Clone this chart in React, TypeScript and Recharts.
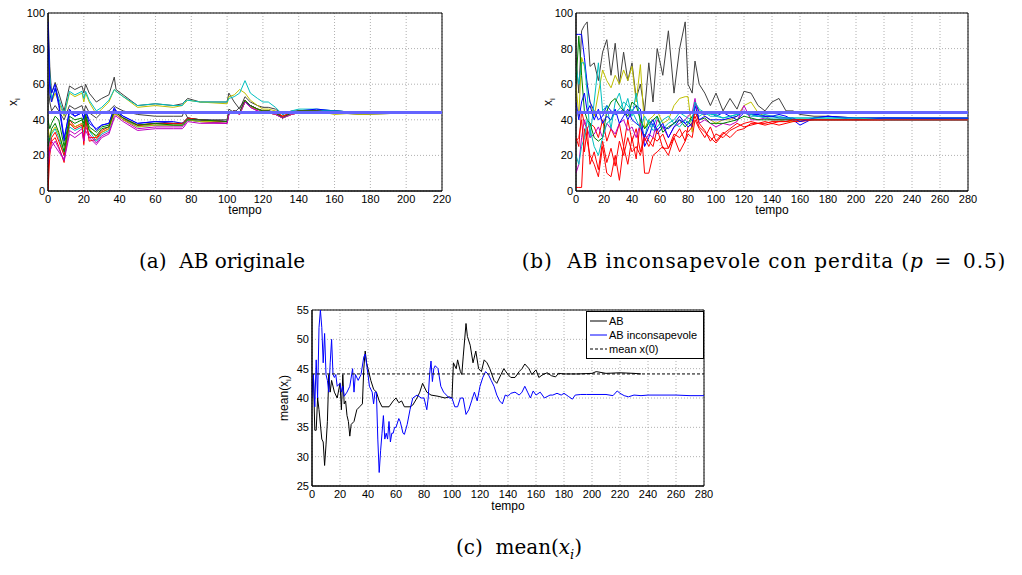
import { LineChart, Line, XAxis, YAxis, CartesianGrid, ReferenceArea, Legend } from "recharts";

const FONT = '"Liberation Sans", Arial, Helvetica, sans-serif';
const SERIF = '"DejaVu Serif", "Liberation Serif", serif';

// MATLAB default line colours
const K = "#404040";
const B = "#0000ff";
const G = "#008000";
const R = "#ff0000";
const C = "#00bfbf";
const M = "#bf00bf";
const Y = "#bfbf00";

// ---------- (a) AB originale ----------
const timeA = [0, 1, 2, 4, 6, 9, 12, 15, 19, 20, 21, 23, 27, 30, 34, 37, 38, 42, 50, 60, 70, 75, 76, 78, 85, 100, 101, 104, 107, 110, 113, 117, 120, 123, 127, 131, 136, 140, 150, 160, 175, 205];
const agentsA: number[][] = [
  [100, 70, 55, 61, 55, 45, 59, 57, 59, 55, 60, 55, 50, 52, 54, 64, 57, 54, 48, 49, 48, 49, 50, 52, 50, 50, 55, 50, 46, 53, 50, 48, 47, 47, 46, 43, 45, 45, 45, 44, 44, 44],
  [75, 60, 50, 55, 50, 42, 55, 53, 55, 50, 55, 50, 43, 46, 50, 57, 56, 53, 47, 48, 47, 48, 49, 51, 50, 49, 53, 54, 57, 55, 51, 48, 46, 46, 45, 42, 44, 45, 45, 43, 44, 44],
  [85, 65, 52, 57, 52, 43, 56, 54, 56, 52, 56, 51, 45, 47, 51, 57, 56, 53, 48, 49, 48, 48, 50, 51, 50, 50, 52, 53, 55, 62, 55, 52, 50, 50, 47, 43, 45, 46, 46, 45, 44, 44],
  [60, 50, 45, 48, 45, 40, 48, 46, 48, 44, 48, 44, 41, 44, 45, 48, 47, 45, 43, 42, 42, 42, 45, 41, 40, 40, 46, 44, 47, 51, 48, 46, 45, 45, 44, 42, 44, 44, 45, 44, 43, 44],
  [90, 55, 50, 58, 48, 28, 46, 42, 44, 40, 45, 38, 35, 37, 38, 47, 45, 42, 38, 39, 38, 38, 39, 41, 40, 39, 44, 45, 44, 50, 48, 46, 45, 45, 44, 41, 44, 45, 46, 45, 44, 44],
  [40, 35, 38, 42, 40, 25, 42, 40, 41, 38, 43, 36, 33, 36, 37, 45, 44, 41, 37, 38, 38, 38, 39, 41, 40, 39, 44, 45, 44, 51, 48, 46, 45, 45, 44, 41, 44, 45, 45, 45, 44, 44],
  [0, 20, 28, 30, 25, 16, 40, 36, 38, 26, 42, 28, 29, 33, 35, 44, 43, 40, 37, 37, 37, 37, 38, 40, 39, 38, 44, 45, 43, 51, 48, 45, 44, 44, 43, 42, 43, 44, 44, 44, 44, 44],
  [20, 30, 28, 25, 22, 18, 34, 32, 35, 30, 36, 32, 27, 31, 33, 42, 43, 40, 35, 36, 36, 36, 37, 40, 39, 38, 43, 45, 43, 50, 47, 45, 44, 44, 43, 41, 43, 44, 45, 44, 44, 44],
  [95, 60, 55, 60, 50, 30, 44, 42, 44, 41, 45, 40, 34, 37, 38, 46, 45, 42, 38, 39, 39, 38, 39, 40, 40, 39, 44, 45, 44, 50, 48, 46, 45, 45, 44, 41, 44, 45, 45, 45, 44, 44],
  [30, 28, 32, 35, 30, 20, 36, 34, 36, 33, 38, 34, 28, 32, 34, 44, 44, 41, 36, 37, 37, 37, 38, 40, 39, 39, 44, 45, 44, 51, 48, 46, 45, 45, 44, 41, 44, 45, 45, 45, 44, 44],
  [35, 30, 33, 36, 32, 22, 38, 36, 38, 35, 40, 35, 30, 33, 35, 43, 43, 40, 36, 37, 37, 37, 38, 40, 39, 39, 44, 45, 43, 50, 47, 46, 45, 44, 43, 41, 43, 44, 44, 44, 43, 44],
  [10, 25, 30, 33, 28, 20, 38, 35, 37, 28, 40, 30, 30, 34, 36, 45, 44, 41, 37, 38, 38, 38, 39, 41, 40, 39, 44, 45, 44, 51, 48, 46, 45, 45, 44, 42, 44, 45, 45, 44, 44, 44],
  [25, 30, 35, 38, 33, 22, 40, 38, 40, 36, 42, 34, 31, 35, 36, 45, 44, 41, 37, 38, 37, 37, 38, 40, 40, 39, 44, 45, 44, 51, 48, 46, 45, 45, 44, 41, 44, 45, 45, 44, 44, 44],
  [15, 22, 25, 28, 24, 17, 32, 30, 33, 28, 34, 30, 26, 30, 32, 41, 42, 39, 34, 35, 35, 35, 36, 39, 38, 38, 43, 45, 43, 50, 47, 45, 44, 44, 43, 41, 43, 44, 44, 44, 44, 44],
];
const colorsA = [K, Y, C, K, B, G, R, M, B, C, Y, R, G, M];
const meanA = [{ t: 0, m: 44.1 }, { t: 220, m: 44.1 }];

// ---------- (b) AB inconsapevole con perdita ----------
const timeB = [0, 2, 4, 6, 8, 10, 13, 16, 19, 22, 25, 28, 31, 34, 37, 40, 43, 46, 49, 52, 55, 58, 62, 66, 70, 74, 78, 80, 83, 85, 88, 92, 96, 100, 105, 110, 115, 120, 125, 130, 135, 140, 145, 150, 155, 160, 170, 180, 200, 220, 280];
const agentsB: number[][] = [
  [75, 55, 90, 93, 95, 70, 72, 62, 78, 85, 65, 83, 60, 78, 62, 72, 52, 60, 45, 72, 50, 80, 65, 90, 55, 80, 95, 60, 55, 73, 60, 55, 48, 55, 45, 52, 46, 56, 55, 48, 45, 50, 52, 45, 45, 43, 42, 42, 41, 41, 41],
  [60, 42, 75, 70, 60, 50, 42, 55, 68, 62, 58, 65, 60, 68, 62, 70, 50, 71, 35, 40, 42, 45, 38, 40, 48, 52, 53, 53, 33, 50, 45, 42, 40, 38, 40, 40, 42, 48, 50, 44, 42, 40, 40, 39, 39, 40, 40, 40, 40, 40, 40],
  [88, 88, 88, 75, 60, 50, 45, 40, 42, 48, 45, 43, 44, 46, 40, 45, 48, 46, 25, 30, 38, 32, 36, 35, 38, 42, 38, 39, 36, 50, 44, 43, 44, 42, 44, 42, 40, 44, 43, 43, 42, 42, 43, 42, 40, 37, 41, 42, 40, 41, 40.5],
  [2, 2, 2, 35, 28, 20, 15, 8, 25, 10, 8, 20, 6, 25, 15, 30, 18, 40, 10, 10, 20, 22, 25, 20, 30, 22, 28, 32, 30, 40, 35, 30, 36, 28, 33, 30, 34, 35, 38, 38, 37, 38, 37, 38, 39, 39, 40, 40, 40, 40, 40],
  [30, 25, 45, 38, 35, 38, 36, 30, 40, 28, 35, 30, 38, 25, 40, 28, 35, 22, 32, 28, 25, 35, 24, 24, 30, 35, 28, 36, 38, 42, 36, 33, 30, 27, 32, 35, 38, 36, 37, 38, 39, 38, 39, 39, 40, 40, 40, 40, 40, 40, 40],
  [70, 60, 72, 72, 55, 30, 50, 72, 45, 48, 35, 50, 55, 45, 52, 42, 55, 38, 30, 40, 36, 42, 35, 38, 40, 44, 42, 41, 40, 45, 42, 44, 43, 43, 41, 42, 43, 44, 42, 42, 43, 42, 42, 41, 41, 41, 41, 41, 41, 41, 41],
  [10, 15, 30, 40, 35, 30, 32, 36, 30, 38, 35, 32, 38, 40, 34, 36, 30, 38, 28, 32, 30, 40, 36, 30, 36, 38, 40, 42, 44, 52, 38, 40, 38, 36, 38, 37, 39, 48, 40, 40, 41, 40, 40, 40, 40, 40, 40, 40, 40, 40, 40],
  [60, 87, 65, 45, 40, 38, 30, 28, 30, 45, 50, 52, 48, 45, 42, 50, 48, 40, 35, 38, 40, 42, 33, 36, 38, 40, 36, 38, 42, 44, 40, 41, 38, 38, 38, 39, 40, 42, 41, 40, 40, 40, 40, 40, 40, 40, 40, 40, 40, 40, 40],
  [50, 40, 50, 55, 45, 48, 40, 46, 38, 42, 40, 46, 38, 42, 46, 40, 38, 36, 30, 36, 40, 34, 38, 30, 36, 40, 38, 36, 38, 48, 40, 42, 40, 40, 40, 41, 42, 45, 43, 42, 42, 42, 41, 41, 41, 39, 41, 42, 41, 41, 41],
  [20, 15, 25, 30, 40, 35, 25, 20, 30, 38, 40, 44, 46, 50, 48, 45, 40, 35, 42, 38, 34, 36, 40, 42, 38, 36, 40, 38, 40, 50, 46, 44, 42, 42, 41, 42, 43, 44, 43, 42, 41, 41, 41, 41, 41, 41, 41, 41, 41, 40, 40],
  [28, 30, 40, 22, 35, 15, 22, 12, 28, 16, 24, 14, 28, 20, 30, 22, 25, 20, 30, 25, 30, 28, 32, 24, 32, 30, 34, 33, 36, 45, 38, 34, 28, 32, 30, 34, 36, 38, 39, 38, 38, 39, 39, 39, 40, 40, 40, 40, 40, 40, 40],
];
const colorsB = [K, Y, B, R, R, C, M, G, B, C, R];
const meanB = [{ t: 0, m: 44.1 }, { t: 280, m: 44.1 }];

// ---------- (c) mean(x_i) ----------
const abMean: [number, number][] = [
  [0, 41], [1, 44], [2, 34.5], [3, 34.5], [4, 40], [5, 38], [7, 33], [8, 32.5], [9, 28.5], [10, 32], [11, 36], [12, 44], [13, 41], [14, 43],
  [16, 41], [18, 40], [20, 42.5], [21, 38], [22, 44], [23, 39], [24, 39.5], [25, 37], [26, 36], [27, 33.5], [28, 35.5], [30, 36], [32, 38],
  [34, 38.5], [36, 39], [37, 45], [38, 48], [39, 46], [40, 45], [42, 43], [44, 41.5], [46, 41], [48, 39.5], [50, 38.5], [55, 38.5], [58, 39.5],
  [60, 40], [62, 39.2], [64, 39.5], [66, 38.5], [70, 38.5], [72, 38.8], [75, 40], [77, 41], [79, 42.5], [82, 41], [85, 40.5], [90, 40.3],
  [95, 40], [98, 40.2], [100, 40], [101, 46], [103, 45], [104, 46.5], [106, 44.5], [107, 44], [108, 47], [110, 52.7], [111, 50.5], [113, 49],
  [115, 46], [117, 48], [119, 45], [121, 44.5], [123, 46.5], [125, 46], [127, 45], [130, 43], [132, 42.5], [135, 44], [137, 45], [140, 44],
  [142, 43.5], [145, 43.5], [148, 44.5], [150, 45], [152, 45.8], [155, 45], [157, 44], [160, 44.8], [162, 43.5], [165, 44], [168, 44.3],
  [171, 43.8], [174, 43.6], [176, 44.2], [180, 44.1], [190, 44.1], [200, 44.2], [203, 44.5], [210, 44.2], [220, 44.3], [230, 44.2], [235, 44.1],
];
const abiMean: [number, number][] = [
  [0, 40], [1, 44], [2, 38.5], [3, 46.5], [4, 40], [5, 52], [6, 55], [7, 52], [8, 46], [9, 51], [10, 44], [11, 43], [12, 41], [13, 46],
  [14, 50], [15, 44], [16, 43.5], [17, 44], [18, 42], [20, 42.5], [21, 41], [22, 42], [23, 40.3], [25, 41], [27, 42], [29, 45], [30, 41],
  [31, 44], [33, 43], [35, 44], [37, 47], [38, 47.5], [40, 44], [41, 42], [43, 41], [44, 39], [45, 41], [46, 41], [47, 33], [48, 27.3],
  [49, 31], [50, 34], [51, 37], [52, 33], [53, 34], [54, 33], [55, 36], [56, 32.5], [57, 34], [58, 34], [59, 35], [60, 35], [62, 36.5],
  [63, 36], [65, 34], [66, 33.8], [68, 35.5], [70, 38], [72, 40], [75, 40.5], [78, 40], [80, 40], [82, 38], [83, 40], [84, 44], [85, 46.3],
  [86, 42.8], [87, 45], [88, 45.5], [90, 45], [92, 42], [94, 41], [96, 40.5], [98, 40], [100, 40], [102, 38.5], [104, 38.5], [106, 40],
  [108, 40], [110, 37.2], [112, 38], [114, 39.5], [116, 41], [118, 39.5], [120, 42], [122, 43.5], [124, 44.5], [126, 44], [128, 43],
  [130, 42], [132, 40.5], [134, 39.5], [136, 39], [138, 40.5], [140, 40.3], [142, 40.8], [145, 41], [148, 40.5], [150, 41], [152, 42],
  [154, 41], [156, 40], [158, 41.2], [160, 40.5], [163, 41], [166, 40], [170, 40.5], [172, 40.5], [175, 40.8], [178, 40.5], [180, 40.8],
  [183, 40.3], [186, 39.8], [188, 40.5], [192, 40.6], [196, 40.6], [200, 40.6], [205, 40.6], [210, 40.6], [215, 40.4], [218, 41.2],
  [220, 40.8], [223, 40.4], [226, 40.2], [230, 40.5], [235, 40.4], [240, 40.5], [250, 40.5], [260, 40.5], [270, 40.4], [280, 40.4],
];
const meanX0 = [{ t: 0, v: 44.1 }, { t: 280, v: 44.1 }];
const legendDash: Record<string, string | undefined> = { "mean x(0)": "3 2" };

const ticks0to220 = [0, 20, 40, 60, 80, 100, 120, 140, 160, 180, 200, 220];
const ticks0to280 = [0, 20, 40, 60, 80, 100, 120, 140, 160, 180, 200, 220, 240, 260, 280];
const ticks0to100 = [0, 20, 40, 60, 80, 100];
const ticks25to55 = [25, 30, 35, 40, 45, 50, 55];

const toRows = (time: number[], agents: number[][]) =>
  time.map((t, i) => {
    const row: Record<string, number> = { t };
    agents.forEach((s, k) => (row[`x${k}`] = s[i]));
    return row;
  });
const toPoints = (pts: [number, number][]) => pts.map(([t, v]) => ({ t, v }));

const tickStyle = { fontSize: 11, fill: "#000" };

function frame(xMax: number, xTicks: number[], yMin: number, yMax: number, yTicks: number[], yWidth: number, xHeight: number, labelOffset: number) {
  return [
    <CartesianGrid key="grid" stroke="#b0b0b0" strokeDasharray="1 2" />,
    <XAxis
      key="x"
      type="number"
      dataKey="t"
      domain={[0, xMax]}
      ticks={xTicks}
      interval={0}
      allowDataOverflow
      tickSize={0}
      tickMargin={4}
      tick={tickStyle}
      stroke="#000"
      height={xHeight}
      label={{ value: "tempo", position: "insideBottom", offset: labelOffset, fontSize: 12, fill: "#000" }}
    />,
    <YAxis
      key="y"
      type="number"
      domain={[yMin, yMax]}
      ticks={yTicks}
      interval={0}
      allowDataOverflow
      tickSize={0}
      tickMargin={3}
      tick={tickStyle}
      stroke="#000"
      width={yWidth}
    />,
    <ReferenceArea key="box" x1={0} x2={xMax} y1={yMin} y2={yMax} fill="none" stroke="#000" strokeWidth={1} />,
  ];
}

function SubLabel({ x, y, pre, sub, post }: { x: number; y: number; pre: string; sub: string; post?: string }) {
  return (
    <text transform={`translate(${x},${y}) rotate(-90)`} textAnchor="middle" fontSize={12} fill="#000">
      <tspan>{pre}</tspan>
      <tspan dy={3} fontSize={8}>{sub}</tspan>
      {post ? <tspan dy={-3}>{post}</tspan> : null}
    </text>
  );
}

function LegendBox({ payload }: any) {
  return (
    <div style={{ border: "1px solid #000", background: "#fff", padding: "2px 0 2px 3px", fontSize: 11, fontFamily: FONT, lineHeight: "14px", whiteSpace: "nowrap" }}>
      {(payload || []).map((e: any) => (
        <div key={e.value} style={{ display: "flex", alignItems: "center" }}>
          <svg width={18} height={8} style={{ marginRight: 1 }}>
            <line x1={0} y1={4} x2={17} y2={4} stroke={e.color} strokeWidth={1} strokeDasharray={legendDash[e.value]} />
          </svg>
          <span>{e.value}</span>
        </div>
      ))}
    </div>
  );
}

const caption: React.CSSProperties = {
  position: "absolute",
  fontFamily: SERIF,
  fontSize: 20,
  whiteSpace: "nowrap",
  transform: "translateX(-50%)",
  color: "#000",
};

export default function App() {
  const rowsA = toRows(timeA, agentsA);
  const rowsB = toRows(timeB, agentsB);
  return (
    <div style={{ position: "absolute", left: 0, top: 0, width: 1022, height: 575, background: "#fff", fontFamily: FONT }}>
      <div style={{ position: "absolute", left: 0, top: 0 }}>
        <LineChart width={460} height={232} data={rowsA} margin={{ top: 13, right: 18, bottom: 0, left: 0 }}>
          {frame(220, ticks0to220, 0, 100, ticks0to100, 48, 41, 18)}
          {agentsA.map((_, k) => (
            <Line key={k} type="linear" dataKey={`x${k}`} stroke={colorsA[k]} strokeWidth={1} dot={false} isAnimationActive={false} />
          ))}
          <Line data={meanA} type="linear" dataKey="m" stroke="#6464ff" strokeWidth={3} dot={false} isAnimationActive={false} />
          <SubLabel x={17} y={102} pre="x" sub="i" />
        </LineChart>
      </div>

      <div style={{ position: "absolute", left: 540, top: 0 }}>
        <LineChart width={482} height={232} data={rowsB} margin={{ top: 13, right: 54, bottom: 0, left: 0 }}>
          {frame(280, ticks0to280, 0, 100, ticks0to100, 36, 41, 18)}
          {agentsB.map((_, k) => (
            <Line key={k} type="linear" dataKey={`x${k}`} stroke={colorsB[k]} strokeWidth={1} dot={false} isAnimationActive={false} />
          ))}
          <Line data={meanB} type="linear" dataKey="m" stroke="#6464ff" strokeWidth={3} dot={false} isAnimationActive={false} />
          <SubLabel x={12} y={102} pre="x" sub="i" />
        </LineChart>
      </div>

      <div style={{ position: "absolute", left: 270, top: 295 }}>
        <LineChart width={452} height={230} margin={{ top: 15, right: 18, bottom: 0, left: 0 }}>
          {frame(280, ticks0to280, 25, 55, ticks25to55, 42, 39, 15)}
          <Line data={toPoints(abMean)} name="AB" type="linear" dataKey="v" stroke="#000" strokeWidth={1} dot={false} isAnimationActive={false} />
          <Line data={toPoints(abiMean)} name="AB inconsapevole" type="linear" dataKey="v" stroke="#0000ff" strokeWidth={1} dot={false} isAnimationActive={false} />
          <Line data={meanX0} name="mean x(0)" type="linear" dataKey="v" stroke="#000" strokeWidth={1} strokeDasharray="3 2" dot={false} isAnimationActive={false} />
          <Legend
            layout="vertical"
            align="center"
            verticalAlign="middle"
            content={<LegendBox />}
            wrapperStyle={{ left: 316, top: 16, width: 118, height: 46 }}
          />
          <SubLabel x={18} y={103} pre="mean(x" sub="i" post=")" />
        </LineChart>
      </div>

      <div style={{ ...caption, left: 222, top: 249 }}>(a)&nbsp; AB originale</div>
      <div style={{ ...caption, left: 764, top: 249, letterSpacing: 0.9 }}>
        (b)&nbsp; AB inconsapevole con perdita (<i>p</i>{"\u2002=\u2002"}0.5)
      </div>
      <div style={{ ...caption, left: 519, top: 535 }}>
        (c)&nbsp; mean(<i>x</i><sub style={{ fontSize: 13 }}>
          <i>i</i>
        </sub>)
      </div>
    </div>
  );
}
